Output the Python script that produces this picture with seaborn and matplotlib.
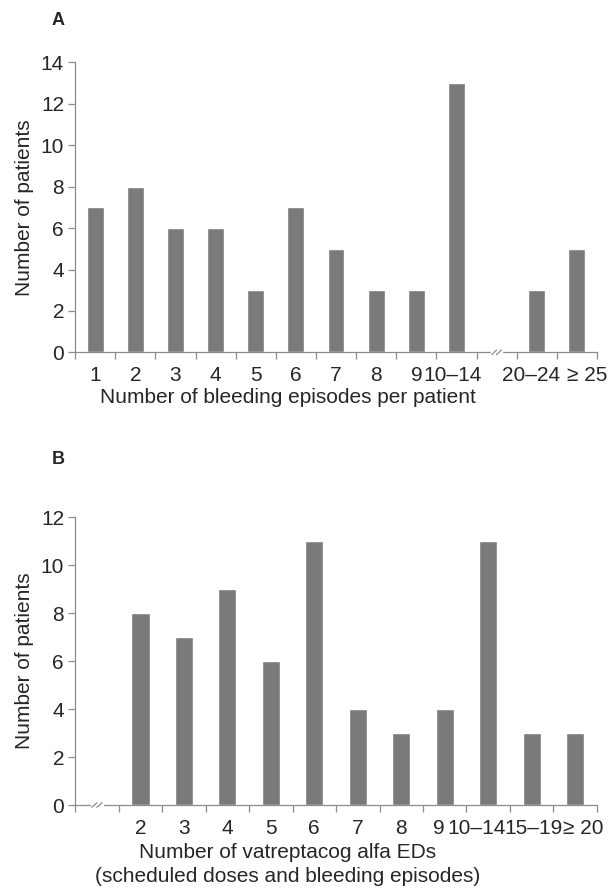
import numpy as np
import pandas as pd
import seaborn as sns
import matplotlib.pyplot as plt
import matplotlib.transforms as mtransforms

# Panel A: bleeding episodes per patient
cats_a = ["1", "2", "3", "4", "5", "6", "7", "8", "9", "10–14", "", "20–24", "≥ 25"]
vals_a = [7, 8, 6, 6, 3, 7, 5, 3, 3, 13, 0, 3, 5]

# Panel B: vatreptacog alfa EDs
cats_b = ["", "2", "3", "4", "5", "6", "7", "8", "9", "10–14", "15–19", "≥ 20"]
vals_b = [0, 8, 7, 9, 6, 11, 4, 3, 4, 11, 3, 3]

sns.set_style("white")
plt.rcParams['font.family'] = ['Liberation Sans', 'DejaVu Sans']

bar_color = "#7a7a7a"
axis_color = "#8c8c8c"
fs = 15

fig = plt.figure(figsize=(6.11, 8.92), dpi=100)
ax_a = fig.add_axes([0.123, 0.605, 0.854, 0.325])
ax_b = fig.add_axes([0.123, 0.0975, 0.854, 0.3229])


def draw_panel(ax, cats, vals, ymax, xlabel, break_idx, letter, letter_y, shifts, lpad):
    df = pd.DataFrame({"cat": cats, "n": vals})
    sns.barplot(data=df, x="cat", y="n", order=cats, color=bar_color,
                width=0.42, saturation=1, ax=ax)
    n = len(cats)
    ax.set_xlim(-0.5, n - 0.5)
    ax.set_ylim(0, ymax)
    ax.set_yticks(range(0, ymax + 1, 2))
    ax.set_xticks(np.arange(-0.5, n, 1.0), minor=True)
    ax.tick_params(axis="x", which="major", length=0, pad=10, labelsize=fs)
    ax.tick_params(axis="x", which="minor", length=5, width=0.9,
                   color=axis_color, direction="out")
    ax.tick_params(axis="y", length=5, width=0.9, color=axis_color,
                   direction="out", labelsize=fs, pad=3)
    ax.tick_params(bottom=True, left=True, which="both")
    for side in ["top", "right"]:
        ax.spines[side].set_visible(False)
    for side in ["left", "bottom"]:
        ax.spines[side].set_color(axis_color)
        ax.spines[side].set_linewidth(0.9)

    # nudge crowded tick labels sideways (pixels)
    for lab in ax.get_xticklabels():
        dx = shifts.get(lab.get_text(), 0)
        if dx:
            lab.set_transform(lab.get_transform() +
                              mtransforms.ScaledTranslation(dx / 100, 0, fig.dpi_scale_trans))

    ax.set_xlabel(xlabel, fontsize=fs, labelpad=lpad, linespacing=1.3, x=0.408)
    ax.set_ylabel("Number of patients", fontsize=fs, labelpad=5)

    # axis break mark "//"
    trans = ax.get_xaxis_transform()
    ax.plot([break_idx - 0.12, break_idx + 0.12], [0, 0], color="white",
            lw=2.5, transform=trans, clip_on=False, zorder=5)
    for dx in (-0.06, 0.06):
        ax.plot([break_idx + dx - 0.06, break_idx + dx + 0.06], [-0.008, 0.008],
                color=axis_color, lw=0.9, transform=trans, clip_on=False, zorder=6)

    ax.text(-0.033, letter_y, letter, transform=ax.transAxes, fontsize=13,
            fontweight="bold", ha="center", va="center")


draw_panel(ax_a, cats_a, vals_a, 14, "Number of bleeding episodes per patient", 10, "A", 1.145,
           {"10–14": -4, "20–24": -6, "≥ 25": 10}, 2)
draw_panel(ax_b, cats_b, vals_b, 12,
           "Number of vatreptacog alfa EDs\n(scheduled doses and bleeding episodes)", 0, "B", 1.2,
           {"9": -6, "10–14": -12, "15–19": 2, "≥ 20": 8}, 4)

fig.savefig("out.png", dpi=100)
